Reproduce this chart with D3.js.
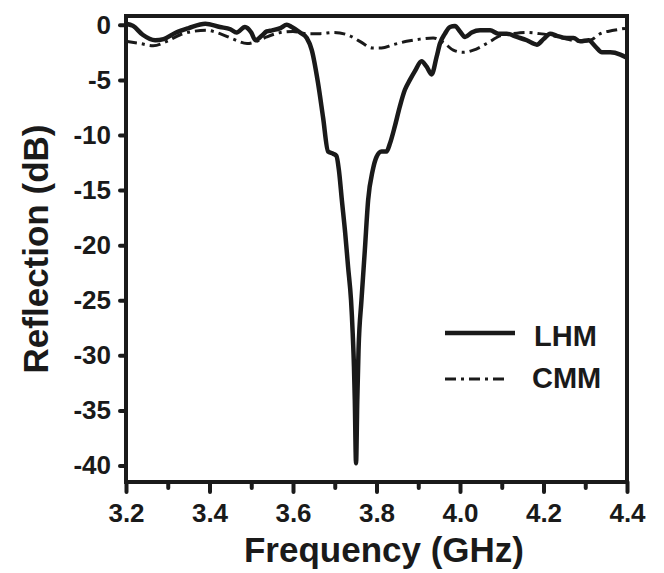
<!DOCTYPE html>
<html>
<head>
<meta charset="UTF-8">
<title>Reflection</title>
<script src="https://cdn.jsdelivr.net/npm/d3@7/dist/d3.min.js"></script>
<style>
  body { margin: 0; background: #fff; }
  text { font-family: "Liberation Sans", Arial, sans-serif; font-weight: bold; fill: #1a1a1a; }
</style>
</head>
<body>
<svg width="664" height="573"></svg>
<script>
// LHM (solid)
var freqLHM = [3.200,3.217,3.240,3.270,3.290,3.320,3.350,3.390,3.425,3.450,3.465,3.485,3.500,3.510,3.525,3.537,3.550,3.570,3.585,3.597,3.617,3.633,3.645,3.660,3.672,3.684,3.696,3.704,3.710,3.717,3.725,3.732,3.739,3.743,3.746,3.748,3.751,3.754,3.757,3.764,3.772,3.780,3.791,3.800,3.812,3.824,3.832,3.844,3.856,3.868,3.880,3.892,3.908,3.920,3.932,3.944,3.952,3.964,3.976,3.988,4.000,4.012,4.028,4.048,4.072,4.092,4.112,4.136,4.160,4.184,4.200,4.216,4.232,4.256,4.272,4.288,4.308,4.325,4.340,4.360,4.384,4.400];
var dbLHM   = [0.1,-0.1,-0.9,-1.4,-1.3,-0.7,-0.3,0.1,-0.2,-0.4,-0.7,-0.2,-0.7,-1.4,-1.0,-0.6,-0.5,-0.3,0.0,-0.2,-0.7,-1.2,-2.3,-5.3,-8.4,-11.5,-11.7,-11.9,-13.2,-15.9,-18.9,-22.0,-25.0,-28.0,-31.0,-34.0,-39.8,-34.0,-29.5,-25.0,-20.5,-15.9,-13.2,-12.0,-11.5,-11.5,-10.8,-9.2,-7.4,-5.9,-5.0,-4.2,-3.3,-3.8,-4.5,-2.9,-1.7,-0.8,-0.2,-0.1,-0.6,-1.1,-0.7,-0.5,-0.5,-0.8,-0.8,-1.1,-1.4,-1.8,-1.3,-0.8,-1.0,-1.2,-1.2,-1.5,-1.4,-2.0,-2.5,-2.5,-2.7,-3.0];

// CMM (dash-dot)
var freqCMM = [3.200,3.234,3.265,3.298,3.330,3.360,3.393,3.425,3.457,3.490,3.513,3.537,3.570,3.600,3.633,3.665,3.697,3.730,3.760,3.790,3.812,3.840,3.872,3.904,3.936,3.960,3.984,4.008,4.032,4.064,4.096,4.128,4.160,4.190,4.224,4.256,4.288,4.312,4.336,4.368,4.400];
var dbCMM   = [-1.5,-1.7,-1.9,-1.5,-0.9,-0.6,-0.5,-0.8,-1.3,-1.7,-1.5,-1.1,-0.7,-0.6,-0.8,-0.8,-0.7,-0.9,-1.5,-2.1,-2.1,-1.8,-1.5,-1.3,-1.2,-1.6,-2.3,-2.5,-2.3,-1.7,-1.0,-0.8,-0.7,-0.8,-1.0,-1.3,-1.5,-1.4,-0.8,-0.5,-0.3];

var xTicks = [3.2,3.4,3.6,3.8,4.0,4.2,4.4];
var xMinor = [3.3,3.5,3.7,3.9,4.1,4.3];
var yTicks = [0,-5,-10,-15,-20,-25,-30,-35,-40];
var seriesNames = ["LHM","CMM"];

var margin = {top:16, right:37, bottom:91, left:126};
var svg = d3.select("svg");
var width = +svg.attr("width") - margin.left - margin.right;
var height = +svg.attr("height") - margin.top - margin.bottom;
var g = svg.append("g").attr("transform","translate("+margin.left+","+margin.top+")");

var x = d3.scaleLinear().domain([3.2,4.4]).range([0,width]);
var y = d3.scaleLinear().domain([-41.5,0.8]).range([height,0]);

// axes (plain hyphen for negatives, like the original)
var xAxis = g.append("g").attr("transform","translate(0,"+height+")")
  .call(d3.axisBottom(x).tickValues(xTicks).tickFormat(function(d){return d.toFixed(1);}).tickSize(10).tickPadding(12));
var xMin = g.append("g").attr("transform","translate(0,"+height+")")
  .call(d3.axisBottom(x).tickValues(xMinor).tickFormat("").tickSize(6));
var yAxis = g.append("g")
  .call(d3.axisLeft(y).tickValues(yTicks).tickFormat(function(d){return String(d);}).tickSize(6).tickPadding(9));

[xAxis,xMin,yAxis].forEach(function(a){
  a.select(".domain").remove();
  a.selectAll("line").attr("stroke","#1a1a1a").attr("stroke-width",4).attr("stroke-linecap","round");
  a.selectAll("text").style("font-size","26px").attr("fill","#1a1a1a");
});

// frame
g.append("rect").attr("x",0).attr("y",0).attr("width",width).attr("height",height)
  .attr("fill","none").attr("stroke","#1a1a1a").attr("stroke-width",4);

// lines
var line = d3.line().x(function(d){return x(d[0]);}).y(function(d){return y(d[1]);}).curve(d3.curveMonotoneX);

g.append("path").datum(d3.zip(freqCMM,dbCMM)).attr("d",line)
  .attr("fill","none").attr("stroke","#1a1a1a").attr("stroke-width",3).attr("stroke-dasharray","11,5,3,5");

g.append("path").datum(d3.zip(freqLHM,dbLHM)).attr("d",line)
  .attr("fill","none").attr("stroke","#1a1a1a").attr("stroke-width",4.5).attr("stroke-linejoin","round");

// legend
var leg = svg.append("g");
leg.append("line").attr("x1",445).attr("x2",515).attr("y1",333).attr("y2",333)
  .attr("stroke","#1a1a1a").attr("stroke-width",4.5);
leg.append("text").attr("x",534).attr("y",346).style("font-size","29px").text(seriesNames[0]);
leg.append("line").attr("x1",445).attr("x2",507).attr("y1",379).attr("y2",379)
  .attr("stroke","#1a1a1a").attr("stroke-width",3).attr("stroke-dasharray","11,5,3,5");
leg.append("text").attr("x",532).attr("y",388).style("font-size","29px").text(seriesNames[1]);

// titles
svg.append("text").attr("x",384).attr("y",562).attr("text-anchor","middle")
  .style("font-size","35px").text("Frequency (GHz)");
svg.append("text").attr("transform","translate(48,249) rotate(-90)").attr("text-anchor","middle")
  .style("font-size","35px").text("Reflection (dB)");
</script>
</body>
</html>
